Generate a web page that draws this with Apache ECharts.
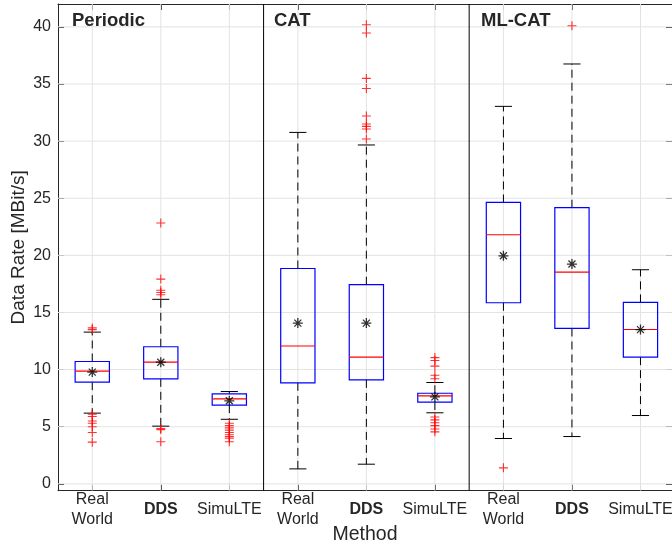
<!DOCTYPE html>
<html><head><meta charset="utf-8">
<script src="https://cdn.jsdelivr.net/npm/echarts@6/dist/echarts.min.js"></script>
<style>html,body{margin:0;padding:0;background:#fff}#c{width:672px;height:544px}</style>
</head><body><div id="c"></div>
<script>
const groups = ['Periodic', 'CAT', 'ML-CAT'];
const methods = ['Real\nWorld', 'DDS', 'SimuLTE'];
const yTicks = [0, 5, 10, 15, 20, 25, 30, 35, 40];
// per box (Periodic RW, DDS, SimuLTE, CAT RW, DDS, SimuLTE, ML-CAT RW, DDS, SimuLTE)
const whiskerLow  = [6.19, 5.05, 5.65, 1.31, 1.72, 6.22, 3.97, 4.14, 5.98];
const quartile1   = [8.90, 9.19, 6.89, 8.84, 9.10, 7.16, 15.85, 13.60, 11.09];
const medians     = [9.87, 10.65, 7.44, 12.06, 11.09, 7.70, 21.80, 18.53, 13.51];
const quartile3   = [10.71, 12.00, 7.87, 18.85, 17.43, 7.93, 24.63, 24.17, 15.88];
const whiskerHigh = [13.28, 16.15, 8.08, 30.76, 29.66, 8.87, 33.04, 36.75, 18.74];
const means       = [9.78, 10.65, 7.27, 14.07, 14.07, 7.61, 19.96, 19.24, 13.50];
const outliers = [
  [13.65, 13.5, 6.1, 5.9, 5.5, 5.3, 5.0, 4.5, 3.65],
  [22.83, 17.92, 16.95, 16.75, 16.55, 4.85, 4.75, 3.68],
  [5.3, 5.1, 4.9, 4.7, 4.5, 4.3, 4.15, 4.0, 3.68],
  [],
  [40.19, 39.46, 35.49, 34.6, 32.2, 31.5, 31.29, 31.06, 30.18],
  [11.05, 10.8, 10.3, 9.5, 9.2, 5.85, 5.6, 5.35, 5.1, 4.8, 4.55],
  [1.40],
  [40.1],
  []
];

const FONT = '"Liberation Sans", Arial, Helvetica, sans-serif';
const AX = '#262626';
const xIdx = medians.map((_, i) => i);
const boxData = xIdx.map(i => [i, whiskerLow[i], quartile1[i], medians[i], quartile3[i], whiskerHigh[i]]);
const meanData = xIdx.map(i => [i, means[i]]);
const outData = [];
outliers.forEach((arr, i) => arr.forEach(v => outData.push([i, v])));
const separators = groups.slice(1).map((_, g) => (g + 1) * methods.length - 0.5);

const chart = echarts.init(document.getElementById('c'), null, {renderer: 'canvas'});
const xMin = -0.5, xMax = 8.46, yMin = -0.6, yMax = 42;

function gridRender(params, api) {
  const cs = params.coordSys;
  const kind = api.value(0), v = api.value(1);
  if (kind === 0) {
    const p = api.coord([v, 0]);
    return {type: 'line', shape: {x1: p[0], y1: cs.y, x2: p[0], y2: cs.y + cs.height},
      style: {stroke: '#e3e3e3', lineWidth: 1}, silent: true};
  } else if (kind === 1) {
    const p = api.coord([0, v]);
    return {type: 'line', shape: {x1: cs.x, y1: p[1], x2: cs.x + cs.width, y2: p[1]},
      style: {stroke: '#e3e3e3', lineWidth: 1}, silent: true};
  } else {
    const p = api.coord([v, 0]);
    return {type: 'line', shape: {x1: p[0], y1: cs.y, x2: p[0], y2: cs.y + cs.height},
      style: {stroke: '#000', lineWidth: 1}, silent: true};
  }
}
const gridData = [];
xIdx.forEach(i => gridData.push([0, i]));
yTicks.forEach(v => gridData.push([1, v]));
separators.forEach(v => gridData.push([2, v]));

function boxRender(params, api) {
  const x = api.value(0);
  const lo = api.coord([x, api.value(1)]);
  const q1 = api.coord([x, api.value(2)]);
  const md = api.coord([x, api.value(3)]);
  const q3 = api.coord([x, api.value(4)]);
  const hi = api.coord([x, api.value(5)]);
  const unit = api.size([1, 0])[0];
  const hw = unit * 0.25, cw = unit * 0.125;
  const cx = lo[0];
  const dash = {stroke: '#000', lineWidth: 1, lineDash: [8, 5]};
  return {type: 'group', children: [
    {type: 'line', shape: {x1: cx, y1: q3[1], x2: cx, y2: hi[1]}, style: dash},
    {type: 'line', shape: {x1: cx, y1: q1[1], x2: cx, y2: lo[1]}, style: dash},
    {type: 'line', shape: {x1: cx - cw, y1: hi[1], x2: cx + cw, y2: hi[1]}, style: {stroke: '#000', lineWidth: 1}},
    {type: 'line', shape: {x1: cx - cw, y1: lo[1], x2: cx + cw, y2: lo[1]}, style: {stroke: '#000', lineWidth: 1}},
    {type: 'rect', shape: {x: cx - hw, y: q3[1], width: 2 * hw, height: q1[1] - q3[1]},
      style: {fill: 'rgba(0,0,0,0)', stroke: '#0000ff', lineWidth: 1.2}},
    {type: 'line', shape: {x1: cx - hw, y1: md[1], x2: cx + hw, y2: md[1]}, style: {stroke: '#ff0000', lineWidth: 1.1}}
  ]};
}

const option = {
  animation: false,
  textStyle: {fontFamily: FONT},
  grid: {left: 58, right: 0, top: 4, bottom: 53.3, containLabel: false, outerBoundsMode: 'none'},
  xAxis: [{
    type: 'value', min: xMin, max: xMax, position: 'bottom',
    name: 'Method', nameLocation: 'middle', nameGap: 34, nameMoveOverlap: false,
    nameTextStyle: {fontSize: 19.5, color: AX, fontFamily: FONT, verticalAlign: 'top'},
    axisLine: {show: true, onZero: false, lineStyle: {color: AX, width: 1}},
    axisTick: {show: true, inside: true, length: 6, customValues: xIdx, lineStyle: {color: AX}},
    splitLine: {show: false},
    axisLabel: {
      customValues: xIdx, margin: 19, verticalAlign: 'middle', lineHeight: 19.5,
      fontSize: 16, color: AX, fontFamily: FONT,
      formatter: v => { const m = methods[Math.round(v) % methods.length]; return m === 'DDS' ? '{b|DDS}' : m; },
      rich: {b: {fontWeight: 'bold', fontSize: 16, color: AX, fontFamily: FONT}}
    }
  }, {
    type: 'value', min: xMin, max: xMax, position: 'top',
    axisLine: {show: true, onZero: false, lineStyle: {color: AX, width: 1}},
    axisTick: {show: true, inside: true, length: 6, customValues: xIdx, lineStyle: {color: AX}},
    axisLabel: {show: false}, splitLine: {show: false}
  }],
  yAxis: [{
    type: 'value', min: yMin, max: yMax, position: 'left',
    name: 'Data Rate [MBit/s]', nameLocation: 'middle', nameGap: 30, nameMoveOverlap: false,
    nameTextStyle: {fontSize: 19, color: AX, fontFamily: FONT},
    axisLine: {show: true, onZero: false, lineStyle: {color: AX, width: 1}},
    axisTick: {show: true, inside: true, length: 6, customValues: yTicks, lineStyle: {color: AX}},
    splitLine: {show: false},
    axisLabel: {customValues: yTicks, margin: 7, fontSize: 16, color: AX, fontFamily: FONT}
  }, {
    type: 'value', min: yMin, max: yMax, position: 'right',
    axisLine: {show: true, onZero: false, lineStyle: {color: AX, width: 1}},
    axisTick: {show: true, inside: true, length: 6, customValues: yTicks, lineStyle: {color: AX}},
    axisLabel: {show: false}, splitLine: {show: false}
  }],
  series: [
    {type: 'custom', z: 1, renderItem: gridRender, data: gridData, silent: true, clip: true},
    {type: 'custom', z: 3, renderItem: boxRender, data: boxData, encode: {x: 0, y: [1, 2, 3, 4, 5]}},
    {type: 'scatter', z: 4, data: outData, symbol: 'path://M0,5L10,5M5,0L5,10', symbolSize: 9,
      itemStyle: {color: 'rgba(0,0,0,0)', borderColor: '#ff0000', borderWidth: 1.1}},
    {type: 'scatter', z: 5, data: meanData,
      symbol: 'path://M5,0L5,10M0,5L10,5M1.5,1.5L8.5,8.5M1.5,8.5L8.5,1.5', symbolSize: 10,
      itemStyle: {color: 'rgba(0,0,0,0)', borderColor: '#000', borderWidth: 1.3}}
  ],
  graphic: groups.map((g, k) => ({
    type: 'text', left: [72, 274, 481][k], top: 11, z: 10,
    style: {text: g, font: 'bold 18.5px ' + FONT, fill: AX}
  }))
};
chart.setOption(option);
</script>
</body></html>
